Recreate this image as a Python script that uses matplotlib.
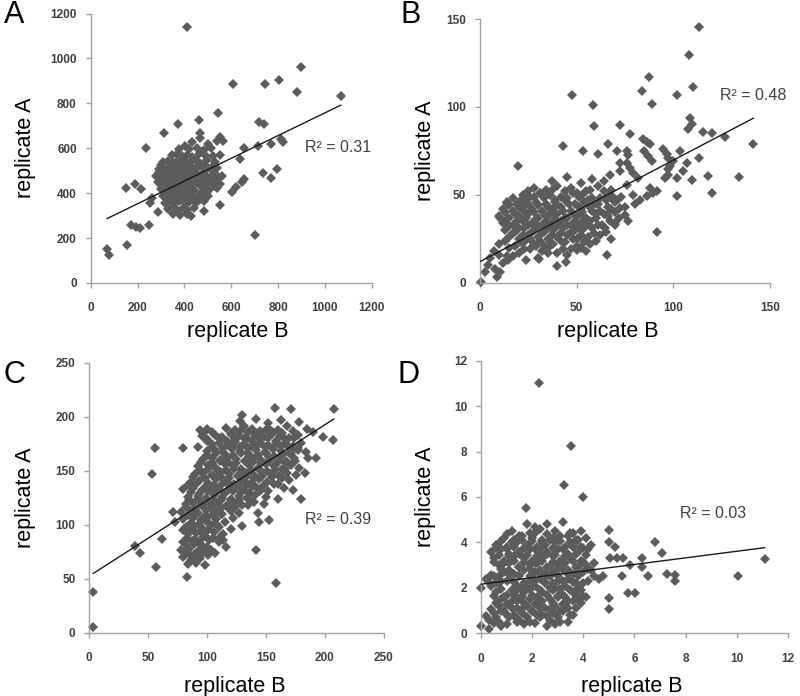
import matplotlib
matplotlib.use("Agg")
import matplotlib.pyplot as plt

plt.rcParams['font.family'] = ['Liberation Sans', 'DejaVu Sans']

# ---------------- Panel A (replicate B vs replicate A) ----------------
a_x = [
    410, 896, 803, 608, 744, 881, 1068, 544, 463, 372,
    313, 719, 742, 235, 467, 551, 563, 768, 813, 819,
    714, 655, 734, 795, 771, 702, 70, 77, 154, 152,
    188, 174, 195, 209, 249, 214, 252, 287, 430, 551,
    484, 605, 622, 644, 655, 262, 637,
    432, 468, 502, 538,
    378, 402, 421, 452, 483, 512,
    348, 368, 391, 412, 433, 461, 489, 521, 553,
    308, 331, 352, 369, 392, 411, 428, 452, 471, 498, 532,
    291, 309, 328, 352, 371, 388, 412, 433, 451, 478, 512, 541,
    279, 302, 319, 341, 362, 378, 401, 422, 439, 472, 498, 529, 562,
    288, 311, 332, 349, 368, 392, 411, 428, 452, 488, 521, 552,
    298, 322, 339, 361, 382, 398, 421, 441, 479, 508, 538,
    309, 331, 352, 368, 391, 412, 429, 462, 501,
    318, 342, 361, 379, 402, 418, 448, 482,
    331, 352, 369, 392, 411, 442,
    352, 381, 409,
    300, 340, 380, 420, 460, 490, 520,
    290, 330, 370, 410, 445, 490, 525,
    295, 340, 380, 420, 460, 505, 540,
    300, 345, 385, 425, 470, 500, 530,
    315, 350, 390, 430, 470, 490,
    325, 365, 410, 440, 470,
]
a_y = [
    1140, 960, 903, 884, 884, 851, 832, 758, 725, 710,
    670, 718, 706, 599, 666, 651, 632, 618, 640, 628,
    609, 599, 492, 507, 468, 215, 153, 123, 171, 425,
    443, 257, 250, 247, 260, 420, 354, 317, 299, 349,
    319, 406, 428, 450, 462, 380, 554,
    628, 645, 618, 632,
    598, 612, 596, 603, 590, 600,
    568, 575, 566, 572, 562, 576, 569, 565, 572,
    538, 545, 536, 542, 547, 535, 540, 544, 532, 546, 538,
    508, 512, 505, 515, 507, 511, 503, 513, 506, 515, 508, 512,
    478, 485, 476, 482, 474, 487, 480, 476, 484, 479, 471, 484, 476,
    448, 452, 446, 455, 448, 451, 444, 453, 447, 455, 449, 442,
    418, 423, 415, 421, 414, 425, 418, 412, 422, 418, 424,
    388, 394, 385, 392, 386, 391, 384, 393, 388,
    358, 362, 355, 364, 357, 361, 354, 363,
    328, 334, 326, 332, 327, 335,
    306, 302, 309,
    525, 522, 528, 524, 521, 527, 523,
    495, 498, 493, 497, 494, 499, 492,
    465, 462, 468, 464, 461, 467, 463,
    435, 438, 433, 437, 432, 439, 434,
    405, 402, 408, 404, 401, 407,
    375, 378, 373, 377, 372,
]
a_trend = (0.506, 251.6)      # slope, intercept
a_r2 = "R² = 0.31"

# ---------------- Panel B ----------------
b_x = [
    113.4, 108.3, 110.0, 101.7, 87.4, 83.6, 89.1, 47.6, 58.6, 59.0,
    72.4, 77.6, 42.8, 53.4, 19.5, 66.0, 60.9, 76.0, 76.5, 84.5,
    86.2, 87.9, 85.0, 87.0, 89.0, 94.8, 97.4, 98.3, 97.4, 105.0,
    101.7, 101.7, 108.6, 109.5, 107.8, 113.4, 109.5, 115.2, 119.8, 118.1,
    119.8, 126.7, 134.1, 141.4, 91.7, 65.5, 39.7, 44.5, 30.5, 50.0,
    0.3, 2.6, 8.6, 10.3, 12.0, 13.8, 10.3, 14.7,
    70.7, 72.4, 75.9, 77.6, 79.3, 81.9, 68.1, 70.7, 72.4, 75.0,
    76.7, 65.5, 69.8, 64.7, 79.3, 82.8, 86.2, 89.7, 91.4, 87.9,
    67.2, 72.4, 75.9, 95.7, 97.4, 100.0, 103.4, 96.6, 106.9,
    37, 45, 52, 58, 64,
    28, 34, 40, 47, 55, 61, 68,
    22, 26, 31, 36, 42, 48, 53, 58, 66, 73,
    14, 19, 24, 29, 34, 39, 44, 49, 54, 60, 65, 70, 80,
    12, 17, 22, 27, 32, 37, 42, 47, 52, 57, 62, 68, 75,
    10, 15, 20, 25, 30, 35, 40, 45, 50, 55, 60, 66, 72,
    12, 17, 22, 27, 32, 37, 42, 47, 52, 57, 63, 70,
    13, 18, 23, 28, 33, 38, 43, 48, 53, 58, 65,
    15, 20, 25, 30, 35, 40, 45, 50, 56, 62, 68,
    10, 18, 23, 28, 33, 38, 44, 50, 57,
    7, 20, 26, 32, 40, 47, 55,
    5, 14, 24, 30,
    4, 8,
    25, 31, 37, 44, 50, 57, 64,
    17, 21, 28, 33, 39, 45, 51, 56, 62, 69,
    15, 20, 25, 30, 35, 40, 46, 51, 56, 61, 66,
    13, 18, 23, 28, 33, 38, 43, 48, 53, 58, 64, 70,
    14, 19, 24, 29, 34, 39, 44, 49, 54, 60, 67,
    15, 20, 25, 30, 35, 40, 45, 50, 55, 61,
    17, 22, 27, 32, 37, 42, 47, 52, 59,
    13, 21, 26, 31, 36, 42, 48, 54, 60,
    15, 23, 29, 35, 43, 52,
    10, 17, 35, 45,
]
b_y = [
    145.7, 129.5, 111.4, 106.7, 116.8, 109.1, 101.5, 106.7, 101.0, 89.1,
    89.7, 84.8, 77.7, 75.2, 66.3, 78.7, 73.0, 75.0, 72.5, 81.5,
    80.0, 79.0, 75.0, 72.0, 69.0, 75.8, 71.0, 66.3, 61.5, 63.4,
    59.6, 49.1, 93.9, 90.1, 87.2, 70.7, 58.7, 85.9, 85.3, 60.6,
    51.0, 82.9, 60.0, 79.0, 28.8, 15.8, 9.5, 12.0, 13.3, 18.7,
    0.6, 6.3, 3.4, 6.3, 11.0, 45.3, 36.8, 13.0,
    74.9, 68.2, 68.2, 65.3, 62.5, 59.6, 49.1, 47.2, 42.5, 38.7,
    34.9, 38.7, 33.0, 31.0, 50.1, 47.2, 49.1, 51.0, 52.0, 53.9,
    61.5, 63.4, 55.8, 59.6, 64.4, 69.1, 74.9, 73.0, 68.2,
    58, 60, 57, 59, 58,
    54, 53, 55, 54, 52, 55, 53,
    50, 49, 51, 50, 49, 51, 50, 48, 50, 49,
    46, 45, 47, 46, 45, 46, 47, 45, 46, 45, 47, 46, 45,
    42, 41, 43, 42, 41, 42, 43, 41, 42, 43, 41, 42, 43,
    38, 37, 38, 39, 37, 38, 39, 37, 38, 37, 39, 38, 37,
    34, 33, 35, 34, 33, 34, 35, 33, 34, 35, 33, 34,
    30, 29, 31, 30, 29, 30, 31, 29, 30, 31, 29,
    26, 25, 27, 26, 25, 26, 27, 25, 26, 27, 25,
    22, 21, 23, 22, 21, 22, 23, 21, 22,
    18, 17, 19, 18, 17, 19, 18,
    14, 15, 13, 14,
    10, 8,
    52, 51, 53, 52, 51, 53, 52,
    48, 47, 49, 48, 47, 48, 49, 47, 48, 47,
    44, 43, 45, 44, 43, 44, 45, 43, 44, 45, 43,
    40, 39, 41, 40, 39, 40, 41, 39, 40, 41, 39, 40,
    36, 35, 37, 36, 35, 36, 37, 35, 36, 37, 35,
    32, 31, 33, 32, 31, 32, 33, 31, 32, 33,
    28, 27, 29, 28, 27, 28, 29, 27, 28,
    24, 23, 25, 24, 23, 24, 25, 23, 24,
    20, 19, 21, 20, 19, 20,
    16, 15, 17, 16,
]
b_trend = (0.577, 12.0)
b_r2 = "R² = 0.48"

# ---------------- Panel C ----------------
c_x = [
    3.4, 3.4, 38.8, 43.0, 56.3, 62.0, 52.9, 55.7, 79.2, 83.4,
    141.4, 158.4, 180.2, 207.6, 207.0, 198.6, 192.4, 185.8, 183.0, 157.6,
    171.7, 129.3, 93.9, 96.7, 144.3, 152.8, 130.1, 143.4, 134.9, 116.5,
    103.8, 106.6, 71.3, 72.7, 110.9, 113.7, 99.6, 92.5,
    128, 142, 152, 163, 178,
    100, 116, 124, 131, 138, 145, 152, 160, 168, 185, 190,
    96, 107, 113, 120, 127, 134, 141, 148, 155, 162, 170, 177,
    104, 110, 117, 124, 131, 138, 145, 152, 159, 166, 173, 180,
    100, 107, 114, 121, 128, 135, 142, 149, 156, 163, 170, 177, 184,
    97, 104, 111, 118, 125, 132, 139, 146, 153, 160, 167, 174,
    92, 101, 108, 115, 122, 129, 136, 143, 150, 157, 164, 171, 178,
    90, 97, 104, 112, 119, 126, 133, 140, 147, 154, 161, 168, 176,
    86, 94, 101, 108, 116, 123, 130, 137, 144, 151, 160, 170,
    80, 88, 96, 103, 110, 117, 124, 131, 138, 145, 152, 165, 173,
    84, 92, 99, 106, 113, 120, 127, 134, 141, 150, 160,
    82, 88, 95, 102, 109, 116, 123, 130, 140, 148,
    78, 86, 92, 99, 106, 113, 120, 127,
    80, 88, 95, 101, 108, 115, 122,
    82, 89, 96, 103, 110, 120,
    84, 91, 98, 106, 114,
    80, 87, 94, 102, 110,
    78, 85, 92, 100,
    80, 87, 94, 101,
    84, 91, 98,
    104, 120, 128, 135, 142, 149, 156, 164, 173,
    100, 110, 117, 124, 131, 138, 145, 152, 159, 166, 174,
    104, 114, 121, 128, 135, 142, 149, 156, 163, 170, 177,
    100, 108, 115, 122, 129, 136, 143, 150, 157, 164, 171,
    95, 104, 111, 118, 125, 132, 139, 146, 153, 160, 167, 175,
    94, 101, 109, 116, 123, 130, 137, 144, 151, 158, 166,
    88, 98, 105, 112, 119, 126, 133, 140, 147, 155, 164,
    84, 91, 99, 106, 113, 120, 127, 134, 141, 148, 157,
    86, 94, 101, 108, 115, 122, 129, 136, 145,
    85, 92, 99, 106, 113, 120, 127, 136,
    82, 90, 97, 104, 111, 118, 124,
    84, 91, 98, 105, 112,
    86, 93, 100, 107,
    80, 87, 94, 101,
    83, 90, 97, 105,
    82, 89, 96,
    83, 90, 97,
    86, 93,
]
c_y = [
    38.0, 5.6, 80.2, 73.5, 61.1, 86.4, 146.6, 170.7, 170.7, 51.2,
    76.5, 45.7, 123.5, 207.1, 178.4, 181.5, 161.4, 161.4, 147.5, 207.7,
    207.1, 201.5, 187.7, 184.6, 102.8, 104.3, 99.1, 110.5, 118.2, 79.6,
    76.5, 73.5, 112.0, 102.8, 88.9, 85.8, 178.0, 172.0,
    196, 198, 194, 197, 195,
    189, 190, 188, 191, 189, 187, 190, 188, 191, 189, 186,
    182, 183, 181, 184, 182, 180, 183, 181, 184, 182, 180, 183,
    175, 176, 174, 177, 175, 173, 176, 174, 177, 175, 173, 176,
    168, 169, 167, 170, 168, 166, 169, 167, 170, 168, 166, 169, 167,
    161, 162, 160, 163, 161, 159, 162, 160, 163, 161, 159, 162,
    154, 155, 153, 156, 154, 152, 155, 153, 156, 154, 152, 155, 153,
    147, 148, 146, 149, 147, 145, 148, 146, 149, 147, 145, 148, 146,
    140, 141, 139, 142, 140, 138, 141, 139, 142, 140, 138, 141,
    133, 134, 132, 135, 133, 131, 134, 132, 135, 133, 131, 134, 132,
    126, 127, 125, 128, 126, 124, 127, 125, 128, 126, 124,
    119, 120, 118, 121, 119, 117, 120, 118, 121, 119,
    112, 113, 111, 114, 112, 110, 113, 111,
    105, 106, 104, 107, 105, 103, 106,
    98, 99, 97, 100, 98, 96,
    91, 92, 90, 93, 91,
    84, 85, 83, 86, 84,
    77, 78, 76, 79,
    70, 71, 69, 72,
    64, 65, 63,
    186, 185, 187, 186, 185, 187, 186, 185, 187,
    179, 180, 178, 179, 180, 178, 179, 180, 178, 179, 180,
    172, 171, 173, 172, 171, 173, 172, 171, 173, 172, 171,
    165, 166, 164, 165, 166, 164, 165, 166, 164, 165, 166,
    158, 157, 159, 158, 157, 159, 158, 157, 159, 158, 157, 159,
    151, 152, 150, 151, 152, 150, 151, 152, 150, 151, 152,
    144, 143, 145, 144, 143, 145, 144, 143, 145, 144, 143,
    137, 138, 136, 137, 138, 136, 137, 138, 136, 137, 138,
    130, 129, 131, 130, 129, 131, 130, 129, 131,
    123, 124, 122, 123, 124, 122, 123, 124,
    116, 115, 117, 116, 115, 117, 116,
    109, 110, 108, 109, 110,
    102, 101, 103, 102,
    95, 96, 94, 95,
    88, 87, 89, 88,
    81, 82, 80,
    74, 73, 75,
    67, 68,
]
c_trend = (0.70, 52.5)
c_r2 = "R² = 0.39"

# ---------------- Panel D ----------------
d_x = [
    2.27, 3.52, 3.25, 4.00, 1.76, 5.02, 5.02, 5.24, 6.80, 7.07,
    6.28, 6.28, 6.54, 7.26, 7.59, 7.59, 10.07, 11.10, 5.02, 5.02,
    5.76, 6.02, 5.50, 5.57, 5.30, 5.05, 5.83, 4.78,
    1.8, 2.1, 2.6, 3.2,
    1.2, 1.9, 2.3, 2.9, 3.6, 3.9,
    0.9, 1.3, 1.6, 2.0, 2.4, 2.8, 3.4, 3.7, 4.1,
    0.6, 1.0, 1.4, 1.8, 2.2, 2.5, 2.9, 3.3, 3.6, 3.9, 4.3,
    0.4, 0.8, 1.1, 1.5, 1.9, 2.3, 2.6, 3.0, 3.4, 3.8, 4.2,
    0.5, 0.9, 1.3, 1.7, 2.0, 2.4, 2.8, 3.1, 3.5, 3.9,
    0.7, 1.1, 1.5, 1.9, 2.2, 2.6, 3.0, 3.3, 3.7, 4.1, 4.4,
    0.9, 1.3, 1.7, 2.1, 2.5, 2.8, 3.2, 3.6, 4.0, 4.3,
    0.2, 0.5, 0.8, 1.1, 1.5, 1.9, 2.3, 2.7, 3.0, 3.4, 3.8, 4.2, 4.6,
    0.0, 0.4, 0.7, 1.4, 1.8, 2.1, 2.5, 2.9, 3.3, 3.7,
    0.6, 1.0, 1.4, 1.7, 2.0, 2.4, 2.8, 3.2, 3.6, 3.9,
    0.8, 1.2, 1.6, 1.9, 2.3, 2.7, 3.0, 3.4, 3.8, 4.1,
    0.7, 1.0, 1.4, 1.8, 2.2, 2.5, 2.9, 3.3, 3.7,
    0.5, 0.9, 1.3, 1.6, 2.0, 2.4, 2.8, 3.2, 3.5,
    0.3, 0.7, 1.1, 1.5, 1.9, 2.3, 2.7, 3.1,
    0.0, 0.3, 0.8, 1.7, 2.6,
    1.0, 1.5, 2.1, 2.6, 3.1, 3.5,
    0.8, 1.2, 1.6, 2.0, 2.4, 2.7, 3.1, 3.5, 3.8,
    0.6, 1.0, 1.3, 1.7, 2.1, 2.4, 2.8, 3.2, 3.6, 4.0,
    0.7, 1.1, 1.5, 1.8, 2.2, 2.6, 2.9, 3.3, 3.7, 4.1,
    0.5, 0.9, 1.3, 1.7, 2.1, 2.4, 2.8, 3.2, 3.6, 4.0,
    0.8, 1.1, 1.5, 1.9, 2.3, 2.7, 3.0, 3.4, 3.8, 4.2,
    0.4, 0.7, 1.1, 1.5, 1.9, 2.3, 2.6, 3.0, 3.4, 3.8, 4.4,
    0.3, 0.6, 1.0, 1.3, 1.7, 2.1, 2.5, 2.8, 3.2, 3.6, 4.0,
    0.8, 1.2, 1.6, 1.9, 2.3, 2.7, 3.1, 3.5, 3.8,
    0.5, 0.9, 1.3, 1.6, 2.2, 2.6, 3.0, 3.3, 3.7, 4.0,
    0.6, 1.0, 1.4, 1.7, 2.1, 2.4, 2.8, 3.2, 3.6, 3.9,
    0.4, 0.8, 1.2, 1.6, 2.0, 2.3, 2.7, 3.1, 3.4,
    0.2, 0.6, 1.0, 1.3, 1.8, 2.2, 2.6, 3.0, 3.6,
    0.5, 1.0, 1.4, 2.1, 2.9, 3.4,
]
d_y = [
    11.00, 8.24, 6.52, 6.01, 5.53, 4.55, 4.03, 3.81, 4.03, 3.55,
    3.30, 2.93, 2.54, 2.60, 2.57, 2.32, 2.52, 3.27, 1.54, 1.06,
    1.76, 1.76, 2.52, 3.30, 3.30, 3.30, 3.00, 2.54,
    4.8, 4.7, 4.8, 4.9,
    4.5, 4.4, 4.6, 4.5, 4.4, 4.5,
    4.2, 4.1, 4.3, 4.2, 4.1, 4.2, 4.3, 4.1, 4.2,
    3.9, 3.8, 4.0, 3.9, 3.8, 3.9, 4.0, 3.8, 3.9, 3.8, 3.9,
    3.6, 3.7, 3.5, 3.6, 3.7, 3.5, 3.6, 3.7, 3.5, 3.6, 3.7,
    3.3, 3.2, 3.4, 3.3, 3.2, 3.3, 3.4, 3.2, 3.3, 3.2,
    3.0, 3.1, 2.9, 3.0, 3.1, 2.9, 3.0, 3.1, 2.9, 3.0, 3.1,
    2.7, 2.6, 2.8, 2.7, 2.6, 2.7, 2.8, 2.6, 2.7, 2.8,
    2.4, 2.5, 2.3, 2.4, 2.5, 2.3, 2.4, 2.5, 2.3, 2.4, 2.5, 2.3, 2.4,
    2.0, 2.1, 2.2, 2.1, 2.0, 2.1, 2.2, 2.0, 2.1, 2.2,
    1.8, 1.7, 1.9, 1.8, 1.7, 1.8, 1.9, 1.7, 1.8, 1.9,
    1.5, 1.4, 1.6, 1.5, 1.4, 1.5, 1.6, 1.4, 1.5, 1.6,
    1.2, 1.3, 1.1, 1.2, 1.3, 1.1, 1.2, 1.3, 1.1,
    0.9, 1.0, 0.8, 0.9, 1.0, 0.8, 0.9, 1.0, 0.8,
    0.6, 0.5, 0.7, 0.6, 0.5, 0.7, 0.6, 0.5,
    0.3, 0.2, 0.3, 0.4, 0.3,
    4.35, 4.30, 4.40, 4.35, 4.30, 4.40,
    4.05, 4.00, 4.10, 4.05, 4.00, 4.10, 4.05, 4.00, 4.10,
    3.75, 3.70, 3.80, 3.75, 3.70, 3.80, 3.75, 3.70, 3.80, 3.75,
    3.45, 3.40, 3.50, 3.45, 3.40, 3.50, 3.45, 3.40, 3.50, 3.45,
    3.15, 3.10, 3.20, 3.15, 3.10, 3.20, 3.15, 3.10, 3.20, 3.15,
    2.85, 2.80, 2.90, 2.85, 2.80, 2.90, 2.85, 2.80, 2.90, 2.85,
    2.55, 2.50, 2.60, 2.55, 2.50, 2.60, 2.55, 2.50, 2.60, 2.55, 2.50,
    2.25, 2.20, 2.30, 2.25, 2.20, 2.30, 2.25, 2.20, 2.30, 2.25, 2.20,
    1.95, 1.90, 2.00, 1.95, 1.90, 2.00, 1.95, 1.90, 2.00,
    1.65, 1.60, 1.70, 1.65, 1.60, 1.70, 1.65, 1.60, 1.70, 1.65,
    1.35, 1.30, 1.40, 1.35, 1.30, 1.40, 1.35, 1.30, 1.40, 1.35,
    1.05, 1.00, 1.10, 1.05, 1.00, 1.10, 1.05, 1.00, 1.10,
    0.75, 0.70, 0.80, 0.75, 0.70, 0.80, 0.75, 0.70, 0.80,
    0.45, 0.40, 0.50, 0.45, 0.40, 0.50,
]
d_trend = (0.145, 2.16)
d_r2 = "R² = 0.03"

x_label = "replicate B"
y_label = "replicate A"

POINT = '#5c5c5c'
SPINE = '#a3a3a3'
TXT = '#404040'

fig = plt.figure(figsize=(8, 6.96), dpi=100)

panels = [
    # letter, xs, ys, trend, r2, lim, step, axes rect, r2 pos (px), letter pos (px), xlabel coords, ylabel x
    ("A", a_x, a_y, a_trend, a_r2, 1200, 200, [0.1134, 0.5934, 0.3513, 0.3872], (305, 148), (14, 15), (0.524, -0.140), -0.195),
    ("B", b_x, b_y, b_trend, b_r2, 150, 50, [0.6000, 0.5938, 0.3625, 0.3789], (720, 96), (411, 15), (0.441, -0.144), -0.152),
    ("C", c_x, c_y, c_trend, c_r2, 250, 50, [0.1116, 0.0909, 0.3679, 0.3879], (305, 520), (14, 375), (0.495, -0.160), -0.181),
    ("D", d_x, d_y, d_trend, d_r2, 12, 2, [0.6013, 0.0901, 0.3834, 0.3917], (680, 513), (409, 375), (0.490, -0.158), -0.147),
]

for letter, xs, ys, trend, r2, lim, step, rect, r2pos, lpos, xlc, ylx in panels:
    assert len(xs) == len(ys), letter
    ax = fig.add_axes(rect)
    ax.plot(xs, ys, linestyle='none', marker='D', markersize=5.4,
            markeredgewidth=0, color=POINT, zorder=2, clip_on=False)
    slope, icpt = trend
    x0, x1 = min(xs), max(xs)
    ax.plot([x0, x1], [icpt + slope * x0, icpt + slope * x1],
            color='#1a1a1a', lw=1.0, zorder=3)
    ax.set_xlim(0, lim)
    ax.set_ylim(0, lim)
    ticks = list(range(0, lim + 1, step))
    ax.set_xticks(ticks)
    ax.set_yticks(ticks)
    for s in ('top', 'right'):
        ax.spines[s].set_visible(False)
    for s in ('left', 'bottom'):
        ax.spines[s].set_color(SPINE)
        ax.spines[s].set_linewidth(1.0)
    ax.tick_params(axis='both', direction='out', length=3.5, width=1.0,
                   color=SPINE, labelcolor=TXT, labelsize=8.5)
    ax.tick_params(axis='x', pad=10.5)
    ax.tick_params(axis='y', pad=6.5)
    for lab in ax.get_xticklabels() + ax.get_yticklabels():
        lab.set_fontweight('bold')
    ax.set_xlabel(x_label, fontsize=15.5, color='black')
    ax.set_ylabel(y_label, fontsize=15.5, color='black')
    ax.xaxis.set_label_coords(xlc[0], xlc[1])
    ax.yaxis.set_label_coords(ylx, 0.5)
    fig.text(r2pos[0] / 800, 1 - r2pos[1] / 696, r2, fontsize=11.5,
             color=TXT, ha='left', va='center')
    fig.text(lpos[0] / 800, 1 - lpos[1] / 696, letter, fontsize=22,
             color='black', ha='center', va='center')

fig.savefig('out.png', dpi=100, facecolor='white')
